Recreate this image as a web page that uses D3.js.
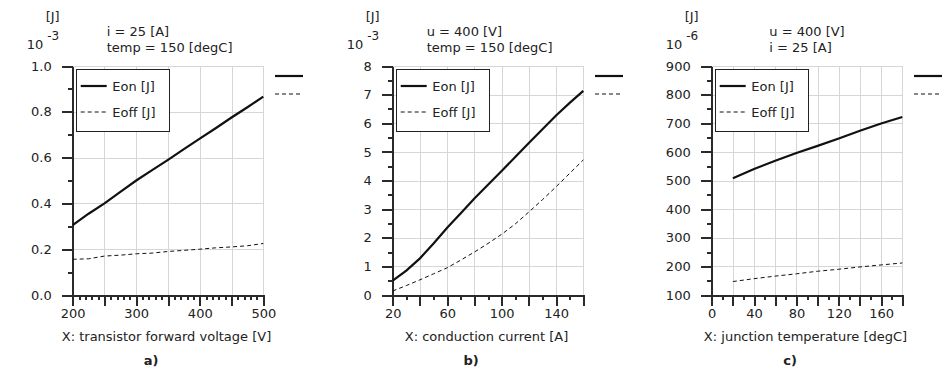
<!DOCTYPE html>
<html>
<head>
<meta charset="utf-8">
<script src="https://cdn.jsdelivr.net/npm/d3@7"></script>
<style>
  body { margin: 0; background: #fff; }
  svg { font-family: "DejaVu Sans", Verdana, sans-serif; font-size: 13px; fill: #222; }
  .grid line { stroke: #d6d6d6; stroke-width: 1; shape-rendering: crispEdges; }
  .axis path, .axis line { stroke: #2a2a2a; stroke-width: 2; shape-rendering: crispEdges; }
  .axis text { fill: #222; font-size: 13px; font-family: "DejaVu Sans", Verdana, sans-serif; }
  .legend rect { fill: #fff; stroke: #222; stroke-width: 1; shape-rendering: crispEdges; }
</style>
</head>
<body>
<svg id="chart" width="945" height="370"></svg>
<script>
/**
 * DATA
 **/
// a) energy vs. transistor forward voltage, i = 25 A, 150 degC  (10^-3 J)
const voltage = [200, 225, 250, 275, 300, 325, 350, 375, 400, 425, 450, 475, 500];
const eonVoltage = [0.305, 0.355, 0.400, 0.450, 0.500, 0.545, 0.590, 0.637, 0.683, 0.728, 0.775, 0.820, 0.866];
const eoffVoltage = [0.156, 0.158, 0.170, 0.174, 0.180, 0.183, 0.190, 0.195, 0.200, 0.206, 0.210, 0.215, 0.225];

// b) energy vs. conduction current, u = 400 V, 150 degC  (10^-3 J)
const current = [20, 30, 40, 50, 60, 70, 80, 90, 100, 110, 120, 130, 140, 150, 160];
const eonCurrent = [0.50, 0.85, 1.28, 1.80, 2.35, 2.86, 3.37, 3.85, 4.33, 4.82, 5.31, 5.79, 6.27, 6.71, 7.13];
const eoffCurrent = [0.14, 0.33, 0.53, 0.74, 0.95, 1.22, 1.50, 1.80, 2.12, 2.48, 2.90, 3.33, 3.78, 4.25, 4.72];

// c) energy vs. junction temperature, u = 400 V, i = 25 A  (10^-6 J)
const temperature = [20, 40, 60, 80, 100, 120, 140, 160, 180];
const eonTemp = [508, 540, 569, 596, 621, 647, 674, 699, 722];
const eoffTemp = [147, 157, 166, 174, 183, 190, 198, 205, 212];

// tick values
const xLabelsA = [200, 300, 400, 500];
const xLabelsB = [20, 60, 100, 140];
const xLabelsC = [0, 40, 80, 120, 160];

const seriesNames = ["Eon [J]", "Eoff [J]"];

/**
 * LAYOUT
 **/
const plotTop = 66, plotBottom = 295, plotW = 190.6;

const panels = [
  { left: 72.7, xs: voltage, on: eonVoltage, off: eoffVoltage,
    xDomain: [200, 500], xMajor: 50, xLabels: xLabelsA,
    yDomain: [0, 1], yMajor: 0.2, yFmt: d3.format(".1f"),
    exp: "-3", params: ["i = 25 [A]", "temp = 150 [degC]"], paramDx: 34,
    title: "X: transistor forward voltage [V]", tag: "a)" },
  { left: 392.7, xs: current, on: eonCurrent, off: eoffCurrent,
    xDomain: [20, 160], xMajor: 20, xLabels: xLabelsB,
    yDomain: [0, 8], yMajor: 1, yFmt: d3.format("d"),
    exp: "-3", params: ["u = 400 [V]", "temp = 150 [degC]"], paramDx: 34,
    title: "X: conduction current [A]", tag: "b)" },
  { left: 711.7, xs: temperature, on: eonTemp, off: eoffTemp,
    xDomain: [0, 180], xMajor: 20, xLabels: xLabelsC,
    yDomain: [100, 900], yMajor: 100, yFmt: d3.format("d"),
    exp: "-6", params: ["u = 400 [V]", "i = 25 [A]"], paramDx: 57.6,
    title: "X: junction temperature [degC]", tag: "c)" }
];

const svg = d3.select("#chart");

// step helper for tick value lists
const steps = (lo, hi, st) => d3.range(0, Math.round((hi - lo) / st) + 1).map(i => +(lo + i * st).toFixed(6));

panels.forEach(p => {
  const g = svg.append("g");
  const x = d3.scaleLinear().domain(p.xDomain).range([p.left, p.left + plotW]);
  const y = d3.scaleLinear().domain(p.yDomain).range([plotBottom, plotTop]);

  const xMajors = steps(p.xDomain[0], p.xDomain[1], p.xMajor);
  const xMinors = steps(p.xDomain[0], p.xDomain[1], 10);
  const yMajors = steps(p.yDomain[0], p.yDomain[1], p.yMajor);
  const yMinors = steps(p.yDomain[0], p.yDomain[1], p.yMajor / 2);

  // GRID
  const grid = g.append("g").attr("class", "grid");
  grid.selectAll("line.v").data(xMajors.slice(1)).join("line")
    .attr("x1", d => Math.round(x(d)) + 0.5).attr("x2", d => Math.round(x(d)) + 0.5)
    .attr("y1", plotTop).attr("y2", plotBottom);
  grid.selectAll("line.h").data(yMajors.slice(1)).join("line")
    .attr("y1", d => Math.round(y(d)) + 0.5).attr("y2", d => Math.round(y(d)) + 0.5)
    .attr("x1", p.left).attr("x2", p.left + plotW);

  // AXES
  g.append("g").attr("class", "axis")
    .attr("transform", `translate(0,${plotBottom})`)
    .call(d3.axisBottom(x).tickValues(xMinors).tickSize(5).tickSizeOuter(0).tickFormat(""));
  g.append("g").attr("class", "axis")
    .attr("transform", `translate(0,${plotBottom})`)
    .call(d3.axisBottom(x).tickValues(xMajors).tickSize(11).tickSizeOuter(0).tickPadding(3)
      .tickFormat(d => p.xLabels.includes(d) ? d : ""));

  g.append("g").attr("class", "axis")
    .attr("transform", `translate(${p.left},0)`)
    .call(d3.axisLeft(y).tickValues(yMinors).tickSize(5).tickSizeOuter(0).tickFormat(""));
  g.append("g").attr("class", "axis")
    .attr("transform", `translate(${p.left},0)`)
    .call(d3.axisLeft(y).tickValues(yMajors).tickSize(11).tickSizeOuter(0).tickPadding(10)
      .tickFormat(p.yFmt));

  // CURVES
  const line = d3.line().x((d, i) => x(p.xs[i])).y(d => y(d));
  g.append("path").datum(p.on).attr("d", line)
    .attr("fill", "none").attr("stroke", "#111").attr("stroke-width", 2.2);
  g.append("path").datum(p.off).attr("d", line)
    .attr("fill", "none").attr("stroke", "#111").attr("stroke-width", 1).attr("stroke-dasharray", "4,3");

  // LEGEND
  const lg = g.append("g").attr("class", "legend").attr("transform", `translate(${p.left},0)`);
  lg.append("rect").attr("x", 3.5).attr("y", 69.5).attr("width", 93).attr("height", 62);
  seriesNames.forEach((name, i) => {
    const ly = 86 + i * 26;
    lg.append("line").attr("x1", 8).attr("x2", 34).attr("y1", ly).attr("y2", ly)
      .attr("stroke", "#111").attr("stroke-width", i ? 1 : 2.2)
      .attr("stroke-dasharray", i ? "4,3" : null);
    lg.append("text").attr("x", 39.6).attr("y", ly + 4.5).text(name);
    // short stubs to the right of the plot
    lg.append("line").attr("x1", 202.3).attr("x2", 230.3).attr("y1", 76 + i * 18).attr("y2", 76 + i * 18)
      .attr("stroke", "#111").attr("stroke-width", i ? 1 : 2.2)
      .attr("stroke-dasharray", i ? "4,3" : null);
  });

  // HEADER TEXT
  g.append("text").attr("x", p.left - 27).attr("y", 20.5).text("[J]");
  const exp = g.append("text").attr("x", p.left - 46).attr("y", 48.5);
  exp.append("tspan").text("10");
  exp.append("tspan").attr("dx", 4).attr("dy", -9).attr("font-size", 12).text(p.exp);
  p.params.forEach((t, i) => {
    g.append("text").attr("x", p.left + p.paramDx).attr("y", 36 + i * 16).text(t);
  });

  // AXIS TITLE AND TAG
  const mid = p.left + plotW / 2;
  g.append("text").attr("x", mid - 1.5).attr("y", 341).attr("text-anchor", "middle").text(p.title);
  g.append("text").attr("x", mid - 17).attr("y", 365).attr("text-anchor", "middle")
    .attr("font-weight", "bold").text(p.tag);
});
</script>
</body>
</html>
